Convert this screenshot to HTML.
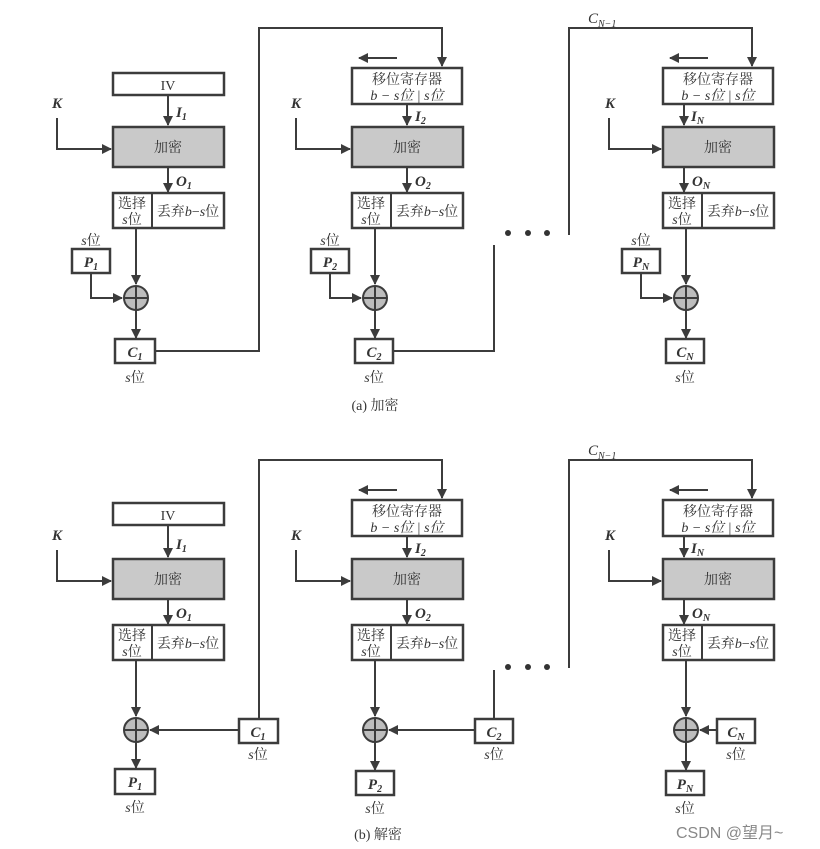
<!DOCTYPE html>
<html><head><meta charset="utf-8"><style>
html,body{margin:0;padding:0;background:#fff;}
svg{display:block;}
.b{fill:#fff;stroke:#3c3c3c;stroke-width:2.5;}
.e{fill:#c9c9c9;stroke:#3c3c3c;stroke-width:2.5;}
.l{fill:none;stroke:#3c3c3c;stroke-width:2;}
.x{fill:#bdbdbd;stroke:#3c3c3c;stroke-width:2;}
text{font-family:"Liberation Serif","Noto Serif CJK SC",serif;fill:#333;}
.zh{font-size:14px;text-anchor:middle;}
.sm{font-size:13px;}
.v{font-style:italic;font-weight:bold;font-size:15px;}
.c{text-anchor:middle;}
</style></head><body>
<svg width="820" height="849" viewBox="0 0 820 849" xmlns="http://www.w3.org/2000/svg">
<defs><marker id="a" viewBox="0 0 10 10" refX="9" refY="5" markerWidth="5" markerHeight="5" orient="auto"><path d="M0,0 L10,5 L0,10 z" fill="#3c3c3c"/></marker></defs>

<!-- ============ TOP (a) ============ -->
<!-- feedback lines -->
<polyline class="l" points="155,351 259,351 259,28 442,28 442,66" marker-end="url(#a)"/>
<polyline class="l" points="393,351 494,351 494,245"/>
<polyline class="l" points="569,235 569,28 752,28 752,66" marker-end="url(#a)"/>
<text x="588" y="23" class="v" style="font-weight:normal">C<tspan font-size="10" dy="4">N−1</tspan></text>
<circle cx="508" cy="233" r="3" fill="#333"/><circle cx="528" cy="233" r="3" fill="#333"/><circle cx="547" cy="233" r="3" fill="#333"/>

<!-- col1 top -->
<g>
<rect x="113" y="73" width="111" height="22" class="b"/><text x="168" y="90" class="zh">IV</text>
<line class="l" x1="168" y1="95" x2="168" y2="125" marker-end="url(#a)"/>
<text x="176" y="117" class="v">I<tspan font-size="10" dy="3">1</tspan></text>
</g>
<!-- col2/3 registers -->
<g transform="translate(239,0)">
<rect x="113" y="68" width="110" height="36" class="b"/>
<text x="168" y="84" class="zh">移位寄存器</text>
<text x="168" y="100" class="zh" font-style="italic">b − s位 | s位</text>
<line class="l" x1="158" y1="58" x2="120" y2="58" marker-end="url(#a)"/>
<line class="l" x1="168" y1="104" x2="168" y2="125" marker-end="url(#a)"/>
<text x="176" y="121" class="v">I<tspan font-size="10" dy="3">2</tspan></text>
</g>
<g transform="translate(550,0)">
<rect x="113" y="68" width="110" height="36" class="b"/>
<text x="168" y="84" class="zh">移位寄存器</text>
<text x="168" y="100" class="zh" font-style="italic">b − s位 | s位</text>
<line class="l" x1="158" y1="58" x2="120" y2="58" marker-end="url(#a)"/>
<line class="l" x1="134" y1="104" x2="134" y2="125" marker-end="url(#a)"/>
<text x="141" y="121" class="v">I<tspan font-size="10" dy="3">N</tspan></text>
</g>

<!-- common top columns -->
<g id="t1">
<rect x="113" y="127" width="111" height="40" class="e"/><text x="168" y="152" class="zh">加密</text>
<line class="l" x1="168" y1="167" x2="168" y2="192" marker-end="url(#a)"/>
<text x="176" y="186" class="v">O<tspan font-size="10" dy="3">1</tspan></text>
<rect x="113" y="193" width="111" height="35" class="b"/><line class="l" x1="152" y1="193" x2="152" y2="228"/>
<text x="132" y="208" class="zh" font-size="13">选择</text><text x="132" y="224" class="zh" font-size="13"><tspan font-style="italic">s</tspan>位</text>
<text x="188" y="216" class="zh" font-size="13">丢弃<tspan font-style="italic">b</tspan>−<tspan font-style="italic">s</tspan>位</text>
<text x="52" y="108" class="v">K</text>
<polyline class="l" points="57,118 57,149 111,149" marker-end="url(#a)"/>
<text x="91" y="245" class="zh" font-size="13"><tspan font-style="italic">s</tspan>位</text>
<rect x="72" y="249" width="38" height="24" class="b"/><text x="91" y="267" class="v c">P<tspan font-size="10" dy="3">1</tspan></text>
<polyline class="l" points="91,273 91,298 122,298" marker-end="url(#a)"/>
<line class="l" x1="136" y1="228" x2="136" y2="284" marker-end="url(#a)"/>
<circle cx="136" cy="298" r="12" class="x"/><line class="l" x1="124" y1="298" x2="148" y2="298"/><line class="l" x1="136" y1="286" x2="136" y2="310"/>
<line class="l" x1="136" y1="310" x2="136" y2="338" marker-end="url(#a)"/>
<rect x="115" y="339" width="40" height="24" class="b"/><text x="135" y="357" class="v c">C<tspan font-size="10" dy="3">1</tspan></text>
<text x="135" y="382" class="zh" font-size="13"><tspan font-style="italic">s</tspan>位</text>
</g>
<g transform="translate(239,0)">
<rect x="113" y="127" width="111" height="40" class="e"/><text x="168" y="152" class="zh">加密</text>
<line class="l" x1="168" y1="167" x2="168" y2="192" marker-end="url(#a)"/>
<text x="176" y="186" class="v">O<tspan font-size="10" dy="3">2</tspan></text>
<rect x="113" y="193" width="111" height="35" class="b"/><line class="l" x1="152" y1="193" x2="152" y2="228"/>
<text x="132" y="208" class="zh" font-size="13">选择</text><text x="132" y="224" class="zh" font-size="13"><tspan font-style="italic">s</tspan>位</text>
<text x="188" y="216" class="zh" font-size="13">丢弃<tspan font-style="italic">b</tspan>−<tspan font-style="italic">s</tspan>位</text>
<text x="52" y="108" class="v">K</text>
<polyline class="l" points="57,118 57,149 111,149" marker-end="url(#a)"/>
<text x="91" y="245" class="zh" font-size="13"><tspan font-style="italic">s</tspan>位</text>
<rect x="72" y="249" width="38" height="24" class="b"/><text x="91" y="267" class="v c">P<tspan font-size="10" dy="3">2</tspan></text>
<polyline class="l" points="91,273 91,298 122,298" marker-end="url(#a)"/>
<line class="l" x1="136" y1="228" x2="136" y2="284" marker-end="url(#a)"/>
<circle cx="136" cy="298" r="12" class="x"/><line class="l" x1="124" y1="298" x2="148" y2="298"/><line class="l" x1="136" y1="286" x2="136" y2="310"/>
<line class="l" x1="136" y1="310" x2="136" y2="338" marker-end="url(#a)"/>
<rect x="116" y="339" width="38" height="24" class="b"/><text x="135" y="357" class="v c">C<tspan font-size="10" dy="3">2</tspan></text>
<text x="135" y="382" class="zh" font-size="13"><tspan font-style="italic">s</tspan>位</text>
</g>
<g transform="translate(550,0)">
<rect x="113" y="127" width="111" height="40" class="e"/><text x="168" y="152" class="zh">加密</text>
<line class="l" x1="134" y1="167" x2="134" y2="192" marker-end="url(#a)"/>
<text x="142" y="186" class="v">O<tspan font-size="10" dy="3">N</tspan></text>
<rect x="113" y="193" width="111" height="35" class="b"/><line class="l" x1="152" y1="193" x2="152" y2="228"/>
<text x="132" y="208" class="zh" font-size="13">选择</text><text x="132" y="224" class="zh" font-size="13"><tspan font-style="italic">s</tspan>位</text>
<text x="188" y="216" class="zh" font-size="13">丢弃<tspan font-style="italic">b</tspan>−<tspan font-style="italic">s</tspan>位</text>
<text x="55" y="108" class="v">K</text>
<polyline class="l" points="59,118 59,149 111,149" marker-end="url(#a)"/>
<text x="91" y="245" class="zh" font-size="13"><tspan font-style="italic">s</tspan>位</text>
<rect x="72" y="249" width="38" height="24" class="b"/><text x="91" y="267" class="v c">P<tspan font-size="10" dy="3">N</tspan></text>
<polyline class="l" points="91,273 91,298 122,298" marker-end="url(#a)"/>
<line class="l" x1="136" y1="228" x2="136" y2="284" marker-end="url(#a)"/>
<circle cx="136" cy="298" r="12" class="x"/><line class="l" x1="124" y1="298" x2="148" y2="298"/><line class="l" x1="136" y1="286" x2="136" y2="310"/>
<line class="l" x1="136" y1="310" x2="136" y2="338" marker-end="url(#a)"/>
<rect x="116" y="339" width="38" height="24" class="b"/><text x="135" y="357" class="v c">C<tspan font-size="10" dy="3">N</tspan></text>
<text x="135" y="382" class="zh" font-size="13"><tspan font-style="italic">s</tspan>位</text>
</g>
<text x="375" y="410" class="zh" font-size="13" fill="#444">(a) 加密</text>

<!-- ============ BOTTOM (b) ============ -->
<g transform="translate(0,432)">
<polyline class="l" points="259,287 259,28 442,28 442,66" marker-end="url(#a)"/>
<polyline class="l" points="494,287 494,238"/>
<polyline class="l" points="569,236 569,28 752,28 752,66" marker-end="url(#a)"/>
<text x="588" y="23" class="v" style="font-weight:normal">C<tspan font-size="10" dy="4">N−1</tspan></text>
<circle cx="508" cy="235" r="3" fill="#333"/><circle cx="528" cy="235" r="3" fill="#333"/><circle cx="547" cy="235" r="3" fill="#333"/>

<rect x="113" y="71" width="111" height="22" class="b"/><text x="168" y="88" class="zh">IV</text>
<line class="l" x1="168" y1="93" x2="168" y2="125" marker-end="url(#a)"/>
<text x="176" y="117" class="v">I<tspan font-size="10" dy="3">1</tspan></text>

<g transform="translate(239,0)">
<rect x="113" y="68" width="110" height="36" class="b"/>
<text x="168" y="84" class="zh">移位寄存器</text>
<text x="168" y="100" class="zh" font-style="italic">b − s位 | s位</text>
<line class="l" x1="158" y1="58" x2="120" y2="58" marker-end="url(#a)"/>
<line class="l" x1="168" y1="104" x2="168" y2="125" marker-end="url(#a)"/>
<text x="176" y="121" class="v">I<tspan font-size="10" dy="3">2</tspan></text>
</g>
<g transform="translate(550,0)">
<rect x="113" y="68" width="110" height="36" class="b"/>
<text x="168" y="84" class="zh">移位寄存器</text>
<text x="168" y="100" class="zh" font-style="italic">b − s位 | s位</text>
<line class="l" x1="158" y1="58" x2="120" y2="58" marker-end="url(#a)"/>
<line class="l" x1="134" y1="104" x2="134" y2="125" marker-end="url(#a)"/>
<text x="141" y="121" class="v">I<tspan font-size="10" dy="3">N</tspan></text>
</g>

<!-- col1 -->
<g>
<rect x="113" y="127" width="111" height="40" class="e"/><text x="168" y="152" class="zh">加密</text>
<line class="l" x1="168" y1="167" x2="168" y2="192" marker-end="url(#a)"/>
<text x="176" y="186" class="v">O<tspan font-size="10" dy="3">1</tspan></text>
<rect x="113" y="193" width="111" height="35" class="b"/><line class="l" x1="152" y1="193" x2="152" y2="228"/>
<text x="132" y="208" class="zh" font-size="13">选择</text><text x="132" y="224" class="zh" font-size="13"><tspan font-style="italic">s</tspan>位</text>
<text x="188" y="216" class="zh" font-size="13">丢弃<tspan font-style="italic">b</tspan>−<tspan font-style="italic">s</tspan>位</text>
<text x="52" y="108" class="v">K</text>
<polyline class="l" points="57,118 57,149 111,149" marker-end="url(#a)"/>
<line class="l" x1="136" y1="228" x2="136" y2="284" marker-end="url(#a)"/>
<circle cx="136" cy="298" r="12" class="x"/><line class="l" x1="124" y1="298" x2="148" y2="298"/><line class="l" x1="136" y1="286" x2="136" y2="310"/>
<line class="l" x1="239" y1="298" x2="150" y2="298" marker-end="url(#a)"/>
<rect x="239" y="287" width="39" height="24" class="b"/><text x="258" y="305" class="v c">C<tspan font-size="10" dy="3">1</tspan></text>
<text x="258" y="327" class="zh" font-size="13"><tspan font-style="italic">s</tspan>位</text>
<line class="l" x1="136" y1="310" x2="136" y2="336" marker-end="url(#a)"/>
<rect x="115" y="337" width="40" height="25" class="b"/><text x="135" y="355" class="v c">P<tspan font-size="10" dy="3">1</tspan></text>
<text x="135" y="380" class="zh" font-size="13"><tspan font-style="italic">s</tspan>位</text>
</g>
<g transform="translate(239,0)">
<rect x="113" y="127" width="111" height="40" class="e"/><text x="168" y="152" class="zh">加密</text>
<line class="l" x1="168" y1="167" x2="168" y2="192" marker-end="url(#a)"/>
<text x="176" y="186" class="v">O<tspan font-size="10" dy="3">2</tspan></text>
<rect x="113" y="193" width="111" height="35" class="b"/><line class="l" x1="152" y1="193" x2="152" y2="228"/>
<text x="132" y="208" class="zh" font-size="13">选择</text><text x="132" y="224" class="zh" font-size="13"><tspan font-style="italic">s</tspan>位</text>
<text x="188" y="216" class="zh" font-size="13">丢弃<tspan font-style="italic">b</tspan>−<tspan font-style="italic">s</tspan>位</text>
<text x="52" y="108" class="v">K</text>
<polyline class="l" points="57,118 57,149 111,149" marker-end="url(#a)"/>
<line class="l" x1="136" y1="228" x2="136" y2="284" marker-end="url(#a)"/>
<circle cx="136" cy="298" r="12" class="x"/><line class="l" x1="124" y1="298" x2="148" y2="298"/><line class="l" x1="136" y1="286" x2="136" y2="310"/>
<line class="l" x1="236" y1="298" x2="150" y2="298" marker-end="url(#a)"/>
<rect x="236" y="287" width="38" height="24" class="b"/><text x="255" y="305" class="v c">C<tspan font-size="10" dy="3">2</tspan></text>
<text x="255" y="327" class="zh" font-size="13"><tspan font-style="italic">s</tspan>位</text>
<line class="l" x1="136" y1="310" x2="136" y2="338" marker-end="url(#a)"/>
<rect x="117" y="339" width="38" height="24" class="b"/><text x="136" y="357" class="v c">P<tspan font-size="10" dy="3">2</tspan></text>
<text x="136" y="381" class="zh" font-size="13"><tspan font-style="italic">s</tspan>位</text>
</g>
<g transform="translate(550,0)">
<rect x="113" y="127" width="111" height="40" class="e"/><text x="168" y="152" class="zh">加密</text>
<line class="l" x1="134" y1="167" x2="134" y2="192" marker-end="url(#a)"/>
<text x="142" y="186" class="v">O<tspan font-size="10" dy="3">N</tspan></text>
<rect x="113" y="193" width="111" height="35" class="b"/><line class="l" x1="152" y1="193" x2="152" y2="228"/>
<text x="132" y="208" class="zh" font-size="13">选择</text><text x="132" y="224" class="zh" font-size="13"><tspan font-style="italic">s</tspan>位</text>
<text x="188" y="216" class="zh" font-size="13">丢弃<tspan font-style="italic">b</tspan>−<tspan font-style="italic">s</tspan>位</text>
<text x="55" y="108" class="v">K</text>
<polyline class="l" points="59,118 59,149 111,149" marker-end="url(#a)"/>
<line class="l" x1="136" y1="228" x2="136" y2="284" marker-end="url(#a)"/>
<circle cx="136" cy="298" r="12" class="x"/><line class="l" x1="124" y1="298" x2="148" y2="298"/><line class="l" x1="136" y1="286" x2="136" y2="310"/>
<line class="l" x1="167" y1="298" x2="150" y2="298" marker-end="url(#a)"/>
<rect x="167" y="287" width="38" height="24" class="b"/><text x="186" y="305" class="v c">C<tspan font-size="10" dy="3">N</tspan></text>
<text x="186" y="327" class="zh" font-size="13"><tspan font-style="italic">s</tspan>位</text>
<line class="l" x1="136" y1="310" x2="136" y2="338" marker-end="url(#a)"/>
<rect x="116" y="339" width="38" height="24" class="b"/><text x="135" y="357" class="v c">P<tspan font-size="10" dy="3">N</tspan></text>
<text x="135" y="381" class="zh" font-size="13"><tspan font-style="italic">s</tspan>位</text>
</g>
</g>
<text x="378" y="839" class="zh" font-size="13" fill="#999">(b) 解密</text>
<text x="676" y="838" style="font-family:'Liberation Sans','Noto Sans CJK SC',sans-serif;font-size:16px;fill:#888">CSDN @望月~</text>
</svg>
</body></html>
